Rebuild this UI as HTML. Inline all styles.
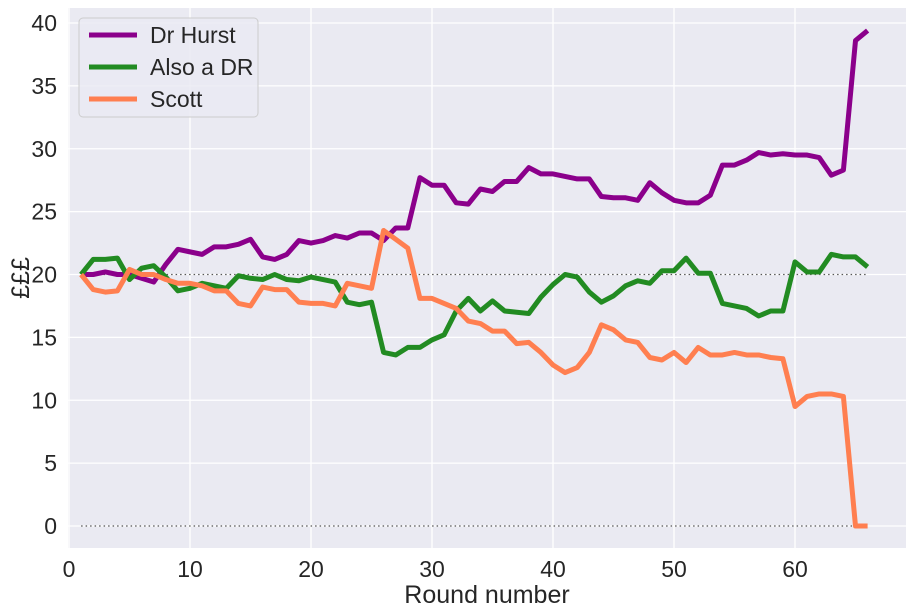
<!DOCTYPE html>
<html><head><meta charset="utf-8"><style>
body{margin:0;background:#fff;}
svg{display:block;font-family:"Liberation Sans",Arial,sans-serif;}
</style></head><body>
<svg id="chart" width="912" height="614">
<rect x="68" y="8" width="838" height="540" fill="#eaeaf2"/>
<g id="grid"></g><g id="lines"></g><g id="ticks"></g>
<text x="487" y="603" font-size="25" text-anchor="middle" fill="#262626">Round number</text>
<text transform="translate(29,278) rotate(-90)" font-size="25" text-anchor="middle" fill="#262626">£££</text>
<g>
<rect x="79" y="18" width="179" height="99" rx="4" fill="#eaeaf2" fill-opacity="0.8" stroke="#ccc"/>
<g><line x1="89" y1="35" x2="137" y2="35" stroke="#8b008b" stroke-width="5"/><text x="150" y="43" font-size="23" fill="#262626">Dr Hurst</text></g>
<g><line x1="89" y1="67" x2="137" y2="67" stroke="#228b22" stroke-width="5"/><text x="150" y="75" font-size="23" fill="#262626">Also a DR</text></g>
<g><line x1="89" y1="99" x2="137" y2="99" stroke="#ff7f50" stroke-width="5"/><text x="150" y="107" font-size="23" fill="#262626">Scott</text></g>
</g>
</svg>
<script>
const rounds = Array.from({length:66},(_,i)=>i+1);
const drHurst = [20,20,20.2,20,20,19.7,19.4,20.8,22,21.8,21.6,22.2,22.2,22.4,22.8,21.4,21.2,21.6,22.7,22.5,22.7,23.1,22.9,23.3,23.3,22.7,23.7,23.7,27.7,27.1,27.1,25.7,25.6,26.8,26.6,27.4,27.4,28.5,28.0,28.0,27.8,27.6,27.6,26.2,26.1,26.1,25.9,27.3,26.5,25.9,25.7,25.7,26.3,28.7,28.7,29.1,29.7,29.5,29.6,29.5,29.5,29.3,27.9,28.3,38.6,39.4];
const alsoDr = [20,21.2,21.2,21.3,19.6,20.5,20.7,19.8,18.7,18.9,19.3,19.1,18.9,19.9,19.7,19.6,20.0,19.6,19.5,19.8,19.6,19.4,17.8,17.6,17.8,13.8,13.6,14.2,14.2,14.8,15.2,17.1,18.1,17.1,17.9,17.1,17.0,16.9,18.2,19.2,20.0,19.8,18.6,17.8,18.3,19.1,19.5,19.3,20.3,20.3,21.3,20.1,20.1,17.7,17.5,17.3,16.7,17.1,17.1,21.0,20.2,20.2,21.6,21.4,21.4,20.6];
const scott = [20,18.8,18.6,18.7,20.4,20.0,20.0,19.6,19.3,19.3,19.1,18.7,18.7,17.7,17.5,19.0,18.8,18.8,17.8,17.7,17.7,17.5,19.3,19.1,18.9,23.5,22.8,22.1,18.1,18.1,17.7,17.3,16.3,16.1,15.5,15.5,14.5,14.6,13.8,12.8,12.2,12.6,13.8,16.0,15.6,14.8,14.6,13.4,13.2,13.8,13.0,14.2,13.6,13.6,13.8,13.6,13.6,13.4,13.3,9.5,10.3,10.5,10.5,10.3,0,0];
const xTicks = [0,10,20,30,40,50,60];
const yTicks = [0,5,10,15,20,25,30,35,40];
const refLines = [0,20];

const NS="http://www.w3.org/2000/svg";
const X = v => 69 + v*12.1;
const Y = v => 526 - v*12.575;
function mk(tag, attrs, parent){const e=document.createElementNS(NS,tag);for(const k in attrs)e.setAttribute(k,attrs[k]);parent.appendChild(e);return e;}
const grid=document.getElementById('grid'), lines=document.getElementById('lines'), ticks=document.getElementById('ticks');
xTicks.forEach(t=>{
  const l=mk('line',{x1:X(t),x2:X(t),y1:8,y2:548,stroke:'#fff','stroke-width':1.3},grid);
  
  
  const tx=mk('text',{x:X(t),y:577,'font-size':23,'text-anchor':'middle',fill:'#262626'},ticks);
  tx.textContent=t;
  
  
});
yTicks.forEach(t=>{
  const l=mk('line',{x1:68,x2:906,y1:Y(t),y2:Y(t),stroke:'#fff','stroke-width':1.3},grid);
  
  
  const tx=mk('text',{x:57,y:Y(t)+8,'font-size':23,'text-anchor':'end',fill:'#262626'},ticks);
  tx.textContent=t;
  
  
});
refLines.forEach(v=>{
  const l=mk('line',{x1:X(1),x2:X(66),y1:Y(v),y2:Y(v),stroke:'#555','stroke-width':1.2,'stroke-dasharray':'1.5,3'},grid);
  
  
});
[[drHurst,'#8b008b','dr-hurst-line'],[alsoDr,'#228b22','also-a-dr-line'],[scott,'#ff7f50','scott-line']].forEach(([d,c,n])=>{
  const p=mk('polyline',{points:d.map((v,i)=>X(rounds[i])+','+Y(v)).join(' '),fill:'none',stroke:c,'stroke-width':5,'stroke-linejoin':'round'},lines);
  
  
});
</script>
</body></html>
